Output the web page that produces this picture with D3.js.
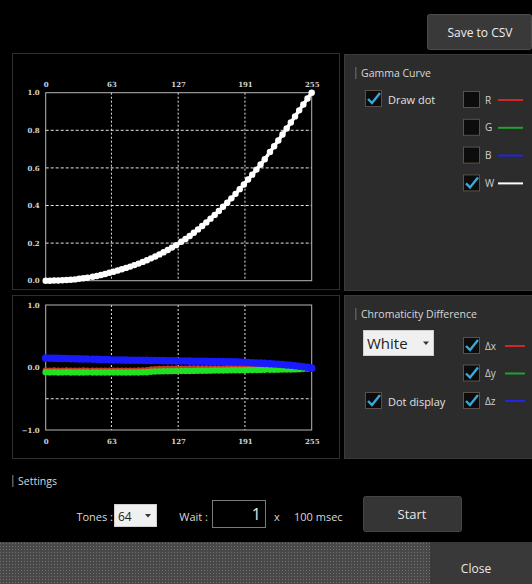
<!DOCTYPE html>
<html><head><meta charset="utf-8">
<script src="https://cdn.jsdelivr.net/npm/d3@7"></script>
<style>
html,body{margin:0;padding:0;background:#000;}
svg{display:block;}
</style></head>
<body>
<script>
const tones = [0,4,8,12,16,20,24,28,32,36,40,45,49,53,57,61,65,69,73,77,81,85,89,93,97,101,105,109,113,117,121,125,130,134,138,142,146,150,154,158,162,166,170,174,178,182,186,190,194,198,202,206,210,215,219,223,227,231,235,239,243,247,251,255];
const gammaW = [0.000,0.000,0.001,0.001,0.002,0.004,0.005,0.007,0.010,0.013,
0.016,0.021,0.025,0.030,0.036,0.042,0.048,0.054,0.061,0.068,
0.075,0.083,0.091,0.100,0.109,0.119,0.129,0.140,0.151,0.163,
0.176,0.189,0.207,0.222,0.238,0.255,0.273,0.291,0.310,0.330,
0.350,0.371,0.393,0.415,0.438,0.462,0.487,0.512,0.538,0.564,
0.591,0.618,0.646,0.685,0.715,0.746,0.778,0.810,0.842,0.874,
0.906,0.937,0.969,1.000];
const deltaX = [-0.044,-0.046,-0.045,-0.047,-0.046,-0.045,-0.046,-0.047,-0.046,-0.045,
-0.046,-0.047,-0.046,-0.048,-0.047,-0.046,-0.047,-0.048,-0.047,-0.046,
-0.047,-0.046,-0.045,-0.044,-0.040,-0.028,-0.022,-0.020,-0.018,-0.017,
-0.016,-0.015,-0.014,-0.014,-0.013,-0.013,-0.012,-0.012,-0.011,-0.011,
-0.010,-0.010,-0.010,-0.009,-0.009,-0.009,-0.008,-0.008,-0.008,-0.008,
-0.008,-0.008,-0.008,-0.008,-0.008,-0.008,-0.008,-0.008,-0.008,-0.008,
-0.008,-0.007,-0.006,-0.005];
const deltaY = [-0.076,-0.078,-0.077,-0.079,-0.078,-0.077,-0.079,-0.078,-0.080,-0.079,
-0.078,-0.080,-0.079,-0.081,-0.080,-0.079,-0.080,-0.081,-0.080,-0.079,
-0.080,-0.078,-0.079,-0.077,-0.075,-0.068,-0.064,-0.062,-0.060,-0.059,
-0.058,-0.057,-0.056,-0.055,-0.055,-0.054,-0.053,-0.052,-0.051,-0.050,
-0.049,-0.048,-0.047,-0.046,-0.045,-0.044,-0.043,-0.042,-0.041,-0.040,
-0.039,-0.038,-0.037,-0.036,-0.035,-0.034,-0.033,-0.032,-0.031,-0.030,
-0.026,-0.021,-0.016,-0.010];
const deltaZ = [0.150,0.148,0.147,0.146,0.144,0.143,0.141,0.140,0.138,0.137,
0.135,0.133,0.131,0.129,0.127,0.124,0.121,0.120,0.119,0.118,
0.117,0.117,0.116,0.115,0.114,0.113,0.112,0.111,0.110,0.108,
0.107,0.106,0.104,0.103,0.102,0.101,0.100,0.099,0.098,0.097,
0.096,0.095,0.094,0.093,0.091,0.090,0.087,0.083,0.079,0.076,
0.073,0.070,0.066,0.062,0.057,0.052,0.047,0.041,0.035,0.028,
0.020,0.011,0.002,-0.010];
const xTickValues = [0,63,127,191,255];
const gammaYTicks = [0,0.2,0.4,0.6,0.8,1.0];
const gammaGrid = [0.2,0.4,0.6,0.8];
const chromaYTicks = [-1,0,1];
const chromaGrid = [-0.5];
const gammaLegend = ["R","G","B","W"];
const gammaChecked = [false,false,false,true];
const chromaLegend = ["Δx","Δy","Δz"];

const W = 532, H = 584;
const uiFont = "'Open Sans','Noto Sans',sans-serif";
const tickFont = "'DejaVu Serif','Liberation Serif',serif";
const colors = {R:"#d02828", G:"#22a030", B:"#2424e8", W:"#ffffff"};
const svg = d3.select("body").append("svg").attr("width", W).attr("height", H);

svg.append("rect").attr("width", W).attr("height", H).attr("fill", "#000");

const defs = svg.append("defs");
const pat = defs.append("pattern").attr("id","dots").attr("width",3).attr("height",3).attr("patternUnits","userSpaceOnUse");
pat.append("rect").attr("width",3).attr("height",3).attr("fill","#484848");
pat.append("rect").attr("width",1).attr("height",1).attr("fill","#707070");

// Save to CSV button
svg.append("rect").attr("x",427.5).attr("y",14.5).attr("width",104).attr("height",35).attr("rx",2)
  .attr("fill","#393939").attr("stroke","#4c4c4c");
svg.append("text").attr("x",480).attr("y",32).attr("text-anchor","middle").attr("dominant-baseline","central")
  .attr("font-family",uiFont).attr("font-size",12).attr("fill","#eeeeee").text("Save to CSV");

function frame(x,y,w,h,fill,stroke){
  svg.append("rect").attr("x",x).attr("y",y).attr("width",w).attr("height",h).attr("fill",fill).attr("stroke",stroke).attr("stroke-width",1);
}
frame(12.5,53.5,327,236,"#000","#2e2e2e");
frame(344.5,54.5,188,236,"#2c2c2c","#3a3a3a");
frame(12.5,295.5,327,163,"#000","#2e2e2e");
frame(344.5,295.5,188,163,"#2c2c2c","#3a3a3a");

const x = d3.scaleLinear().domain([0,255]).range([45.7,311.7]);
const yG = d3.scaleLinear().domain([0,1]).range([280.7,92.7]);
const yC = d3.scaleLinear().domain([-1,1]).range([430,305]);

function styleAxis(g){
  g.select(".domain").remove();
  g.selectAll("text").attr("font-family",tickFont).attr("font-size",7).attr("fill","#d4d4d4").attr("font-weight","bold");
}

// ---------- Gamma chart ----------
const gG = svg.append("g");
gG.selectAll(".vg").data(xTickValues.slice(1,4)).join("line")
  .attr("x1",d=>x(d)).attr("x2",d=>x(d)).attr("y1",yG(1)).attr("y2",yG(0))
  .attr("stroke","#e6e6e6").attr("stroke-width",1).attr("stroke-dasharray","2,2");
gG.selectAll(".hg").data(gammaGrid).join("line")
  .attr("x1",x(0)).attr("x2",x(255)).attr("y1",d=>yG(d)).attr("y2",d=>yG(d))
  .attr("stroke","#e6e6e6").attr("stroke-width",1).attr("stroke-dasharray","3,2");
gG.append("rect").attr("x",x(0)).attr("y",yG(1)).attr("width",x(255)-x(0)).attr("height",yG(0)-yG(1))
  .attr("fill","none").attr("stroke","#b8b8b8").attr("stroke-width",1);
gG.append("g").attr("transform",`translate(0,${yG(1)})`)
  .call(d3.axisTop(x).tickValues(xTickValues).tickSize(0).tickPadding(6).tickFormat(d3.format("d")))
  .call(styleAxis);
gG.append("g").attr("transform",`translate(${x(0)},0)`)
  .call(d3.axisLeft(yG).tickValues(gammaYTicks).tickSize(0).tickPadding(6).tickFormat(d3.format(".1f")))
  .call(styleAxis);
const gData = tones.map((t,i)=>({t, v:gammaW[i]}));
gG.append("path").datum(gData)
  .attr("d", d3.line().x(d=>x(d.t)).y(d=>yG(d.v)))
  .attr("fill","none").attr("stroke","#fff").attr("stroke-width",3.5);
gG.selectAll(".gd").data(gData).join("circle")
  .attr("cx",d=>x(d.t)).attr("cy",d=>yG(d.v)).attr("r",3.2).attr("fill","#fff");

// ---------- Chromaticity chart ----------
const gC = svg.append("g");
gC.selectAll(".vg").data(xTickValues.slice(1,4)).join("line")
  .attr("x1",d=>x(d)).attr("x2",d=>x(d)).attr("y1",yC(1)).attr("y2",yC(-1))
  .attr("stroke","#e6e6e6").attr("stroke-width",1).attr("stroke-dasharray","2,2");
gC.selectAll(".hg").data(chromaGrid).join("line")
  .attr("x1",x(0)).attr("x2",x(255)).attr("y1",d=>yC(d)).attr("y2",d=>yC(d))
  .attr("stroke","#e6e6e6").attr("stroke-width",1).attr("stroke-dasharray","3,2");
gC.append("rect").attr("x",x(0)).attr("y",yC(1)).attr("width",x(255)-x(0)).attr("height",yC(-1)-yC(1))
  .attr("fill","none").attr("stroke","#b8b8b8").attr("stroke-width",1);
gC.append("g").attr("transform",`translate(0,${yC(-1)})`)
  .call(d3.axisBottom(x).tickValues(xTickValues).tickSize(0).tickPadding(9).tickFormat(d3.format("d")))
  .call(styleAxis);
gC.append("g").attr("transform",`translate(${x(0)},0)`)
  .call(d3.axisLeft(yC).tickValues(chromaYTicks).tickSize(0).tickPadding(6).tickFormat(d3.format(".1f")))
  .call(styleAxis);
const series = [
  {vals:deltaX, color:"#c83a1e", r:3},
  {vals:deltaY, color:"#22e022", r:3.2},
  {vals:deltaZ, color:"#1a1aff", r:3.8}
];
series.forEach(s=>{
  const data = tones.map((t,i)=>({t, v:s.vals[i]}));
  gC.append("path").datum(data).attr("d", d3.line().x(d=>x(d.t)).y(d=>yC(d.v)))
    .attr("fill","none").attr("stroke",s.color).attr("stroke-width",4);
  gC.append("g").selectAll("circle").data(data).join("circle")
    .attr("cx",d=>x(d.t)).attr("cy",d=>yC(d.v)).attr("r",s.r).attr("fill",s.color);
});

// ---------- UI helpers ----------
function sectionTitle(xp,yp,label){
  svg.append("rect").attr("x",xp).attr("y",yp-6).attr("width",1.5).attr("height",12).attr("fill","#5a5a5a");
  svg.append("text").attr("x",xp+6).attr("y",yp).attr("dominant-baseline","central")
    .attr("font-family",uiFont).attr("font-size",10.5).attr("fill","#d8d8d8").text(label);
}
function checkbox(xp,yp,checked){
  svg.append("rect").attr("x",xp+0.5).attr("y",yp+0.5).attr("width",16).attr("height",16)
    .attr("fill","#0c0c0c").attr("stroke","#5a5048").attr("stroke-width",1);
  if(checked){
    svg.append("path").attr("d",`M${xp+3},${yp+9} L${xp+7},${yp+13} L${xp+15},${yp+3}`)
      .attr("fill","none").attr("stroke","#3aa8d8").attr("stroke-width",2.4);
  }
}
function label(xp,yp,t,size,fill,anchor){
  svg.append("text").attr("x",xp).attr("y",yp).attr("dominant-baseline","central")
    .attr("text-anchor",anchor||"start")
    .attr("font-family",uiFont).attr("font-size",size).attr("fill",fill).text(t);
}

sectionTitle(355,73,"Gamma Curve");
checkbox(365,90,true);
label(388,99,"Draw dot",11,"#e0e0e0");
const legColors = [colors.R, colors.G, colors.B, colors.W];
gammaLegend.forEach((k,i)=>{
  const yy = 91 + i*27.8;
  checkbox(463,yy,gammaChecked[i]);
  label(485,yy+8.5,k,10,"#d0d0d0");
  svg.append("line").attr("x1",498).attr("x2",523).attr("y1",yy+9).attr("y2",yy+9)
    .attr("stroke",legColors[i]).attr("stroke-width",2);
});

sectionTitle(355,314,"Chromaticity Difference");
svg.append("rect").attr("x",363.5).attr("y",330.5).attr("width",70).attr("height",25)
  .attr("fill","#f0f0f0").attr("stroke","#cfcfcf");
label(367,343,"White",15,"#222");
svg.append("path").attr("d","M423,341.5 L429,341.5 L426,345 Z").attr("fill","#333");
checkbox(365,392,true);
label(388,401,"Dot display",11,"#e0e0e0");
const chromaColors = ["#d02828","#22a030","#2424e8"];
chromaLegend.forEach((k,i)=>{
  const yy = 337 + i*27.5;
  checkbox(463,yy,true);
  label(485,yy+8.5,k,10,"#d0d0d0");
  svg.append("line").attr("x1",505).attr("x2",525).attr("y1",yy+9).attr("y2",yy+9)
    .attr("stroke",chromaColors[i]).attr("stroke-width",2);
});

sectionTitle(12,481,"Settings");
label(113,516,"Tones :",11,"#d8d8d8","end");
svg.append("rect").attr("x",114.5).attr("y",504.5).attr("width",42).attr("height",22)
  .attr("fill","#f0f0f0").attr("stroke","#cfcfcf");
label(118,516,"64",12,"#222");
svg.append("path").attr("d","M145,514 L151,514 L148,517.5 Z").attr("fill","#333");
label(208,516,"Wait :",11,"#d8d8d8","end");
svg.append("rect").attr("x",212.5).attr("y",500.5).attr("width",53).attr("height",27)
  .attr("fill","#000").attr("stroke","#7a7a7a");
label(261,514,"1",16,"#e8e8e8","end");
label(277,516,"x",11,"#d8d8d8","middle");
label(294,516,"100 msec",11,"#d8d8d8");
svg.append("rect").attr("x",363.5).attr("y",496.5).attr("width",98).attr("height",35).attr("rx",2)
  .attr("fill","#353535").attr("stroke","#444");
label(412,514,"Start",13,"#e8e8e8","middle");

svg.append("rect").attr("x",0).attr("y",542).attr("width",W).attr("height",H-542).attr("fill","url(#dots)");
svg.append("rect").attr("x",430).attr("y",542).attr("width",102).attr("height",42).attr("fill","#393939");
label(476,568,"Close",12,"#e8e8e8","middle");
</script>
</body></html>
